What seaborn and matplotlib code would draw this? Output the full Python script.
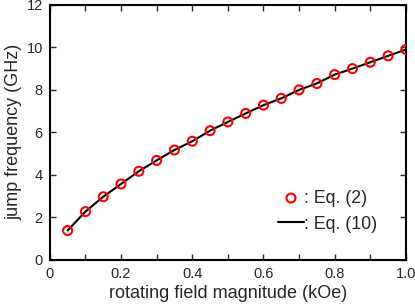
import matplotlib
matplotlib.use("Agg")
import matplotlib.pyplot as plt
import seaborn as sns
import pandas as pd
from matplotlib.ticker import MultipleLocator, FuncFormatter

field = [0.05, 0.10, 0.15, 0.20, 0.25, 0.30, 0.35, 0.40, 0.45, 0.50,
         0.55, 0.60, 0.65, 0.70, 0.75, 0.80, 0.85, 0.90, 0.95, 1.00]
freq = [1.38, 2.27, 2.97, 3.57, 4.17, 4.68, 5.17, 5.58, 6.08, 6.49,
        6.89, 7.28, 7.60, 8.00, 8.30, 8.72, 9.00, 9.30, 9.60, 9.90]

df = pd.DataFrame({"field": field, "freq": freq})

sns.set_style("ticks")
plt.rcParams['font.family'] = ['Liberation Sans', 'DejaVu Sans']

fig = plt.figure(figsize=(4.15, 3.05), dpi=100)
ax = fig.add_axes([0.12, 0.148, 0.858, 0.836])

sns.lineplot(data=df, x="field", y="freq", ax=ax, color="black", lw=1.5,
             label=": Eq. (10)", zorder=2)
sns.scatterplot(data=df, x="field", y="freq", ax=ax, marker="o", s=42,
                facecolor="none", edgecolor="red", linewidth=1.5,
                label=": Eq. (2)", zorder=3)

ax.set_xlim(0, 1.0)
ax.set_ylim(0, 12)
ax.xaxis.set_major_locator(MultipleLocator(0.2))
ax.xaxis.set_minor_locator(MultipleLocator(0.1))
ax.yaxis.set_major_locator(MultipleLocator(2))
ax.xaxis.set_major_formatter(FuncFormatter(lambda v, p: "0" if abs(v) < 1e-9 else f"{v:.1f}"))
ax.tick_params(which="both", direction="in", top=True, right=True,
               labelsize=10.5, length=4, width=1, pad=5)
for s in ax.spines.values():
    s.set_linewidth(1.5)
    s.set_color("black")

ax.set_xlabel("rotating field magnitude (kOe)", fontsize=13, labelpad=3)
ax.set_ylabel("jump frequency (GHz)", fontsize=13, labelpad=3)

h, l = ax.get_legend_handles_labels()
order = [l.index(": Eq. (2)"), l.index(": Eq. (10)")]
ax.legend([h[i] for i in order], [l[i] for i in order], frameon=False,
          loc="lower right", bbox_to_anchor=(0.95, 0.065), fontsize=12.8,
          handlelength=1.5, handletextpad=0.0, borderaxespad=0.2)

fig.savefig("out.png", dpi=100)
